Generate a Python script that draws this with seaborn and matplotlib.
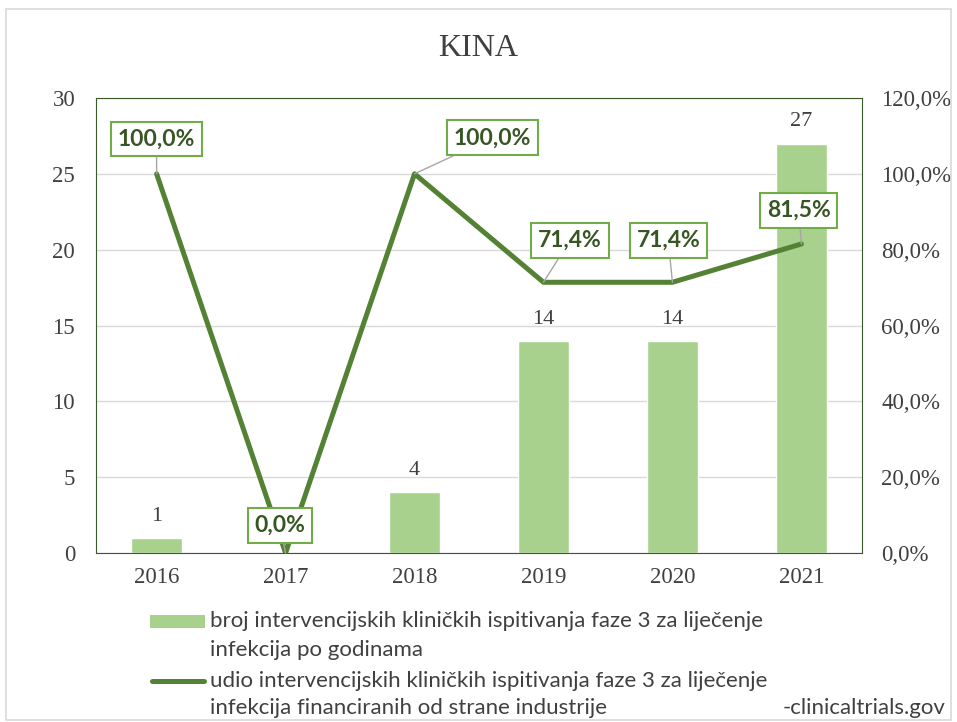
import matplotlib
matplotlib.use("Agg")
import matplotlib.pyplot as plt
import seaborn as sns
import pandas as pd
from matplotlib.patches import Rectangle
from matplotlib.lines import Line2D

years = ["2016", "2017", "2018", "2019", "2020", "2021"]
broj = [1, 0, 4, 14, 14, 27]
udio = [100.0, 0.0, 100.0, 71.4, 71.4, 81.5]
left_ticks = [0, 5, 10, 15, 20, 25, 30]
right_ticks = [0, 20, 40, 60, 80, 100, 120]
label_bar = ["broj intervencijskih kliničkih ispitivanja faze 3 za liječenje",
             "infekcija po godinama"]
label_line = ["udio intervencijskih kliničkih ispitivanja faze 3 za liječenje",
              "infekcija financiranih od strane industrije"]
source = "-clinicaltrials.gov"

BAR_C = "#A9D18E"
LINE_C = "#548235"
TXT_C = "#375623"
BOX_C = "#70AD47"
GREY = "#404040"
SANS = ["Lato", "DejaVu Sans"]

sns.set_style("white")
plt.rcParams["font.family"] = ["Liberation Serif", "DejaVu Serif"]

df = pd.DataFrame({"year": years, "broj": broj, "udio": udio})

W, H = 957, 722
fig = plt.figure(figsize=(W / 100, H / 100), dpi=100)
fig.patches.append(Rectangle((0.006, 0.003), 0.988, 0.985, transform=fig.transFigure,
                             fill=False, edgecolor="#D9D9D9", linewidth=1.2))
ax = fig.add_axes([96 / W, 1 - 553 / H, 766 / W, 455 / H])
sns.barplot(data=df, x="year", y="broj", color=BAR_C, width=0.4, ax=ax, saturation=1)
ax.set_ylim(0, 30)
ax.set_yticks(left_ticks)
ax.yaxis.grid(True, color="#D9D9D9", linewidth=1)
ax.set_axisbelow(True)
ax.set_xlabel("")
ax.set_ylabel("")
for s in ax.spines.values():
    s.set_color("#3a5a2a")
    s.set_linewidth(0.8)
ax.tick_params(axis="y", labelsize=16.5, colors=GREY, length=0, pad=15)
ax.tick_params(axis="x", labelsize=16.5, colors=GREY, length=0, pad=10)
for i, v in enumerate(broj):
    if v > 0:
        ax.text(i, v + 0.8, str(v), ha="center", va="bottom", fontsize=16, color=GREY)

ax2 = ax.twinx()
ax2.plot(range(len(years)), udio, color=LINE_C, linewidth=3.6, solid_capstyle="round")
ax2.set_ylim(0, 120)
ax2.set_yticks(right_ticks)
ax2.set_yticklabels([f"{t:.1f}%".replace(".", ",") for t in right_ticks])
ax2.tick_params(axis="y", labelsize=16.5, colors=GREY, length=0, pad=14)
for s in ax2.spines.values():
    s.set_visible(False)

# label offsets in points (dx, dy) relative to data point
offsets = [(0, 25), (-4, 20), (56, 26), (19, 30), (-3, 30), (-2, 24)]
for i, (v, (dx, dy)) in enumerate(zip(udio, offsets)):
    txt = f"{v:.1f}%".replace(".", ",")
    ax2.annotate(txt, xy=(i, v), xytext=(dx, dy), textcoords="offset points",
                 ha="center", va="center", fontsize=16.5, fontweight="bold", color=TXT_C,
                 family=SANS,
                 bbox=dict(boxstyle="square,pad=0.3", fc="white", ec=BOX_C, lw=1.5),
                 arrowprops=dict(arrowstyle="-", color="#A6A6A6", lw=1, shrinkA=0, shrinkB=0),
                 zorder=5)

fig.text(0.5, 1 - 48 / H, "KINA", ha="center", va="center", fontsize=23, color=GREY)

# legend drawn below the plot
fig.patches.append(Rectangle((150 / W, 1 - 628 / H), 55 / W, 13 / H, transform=fig.transFigure,
                             facecolor=BAR_C, edgecolor="none"))
fig.lines.append(Line2D([152 / W, 204 / W], [1 - 681 / H] * 2, transform=fig.transFigure,
                        color=LINE_C, linewidth=3.6, solid_capstyle="round"))
for lines, ys in [(label_bar, (621, 650)), (label_line, (681, 708))]:
    for t, y in zip(lines, ys):
        fig.text(210 / W, 1 - y / H, t, ha="left", va="center", fontsize=16,
                 color=GREY, family=SANS)
fig.text(945 / W, 1 - 708 / H, source, ha="right", va="center", fontsize=16,
         color=GREY, family=SANS)

fig.savefig("out.png", dpi=100)
